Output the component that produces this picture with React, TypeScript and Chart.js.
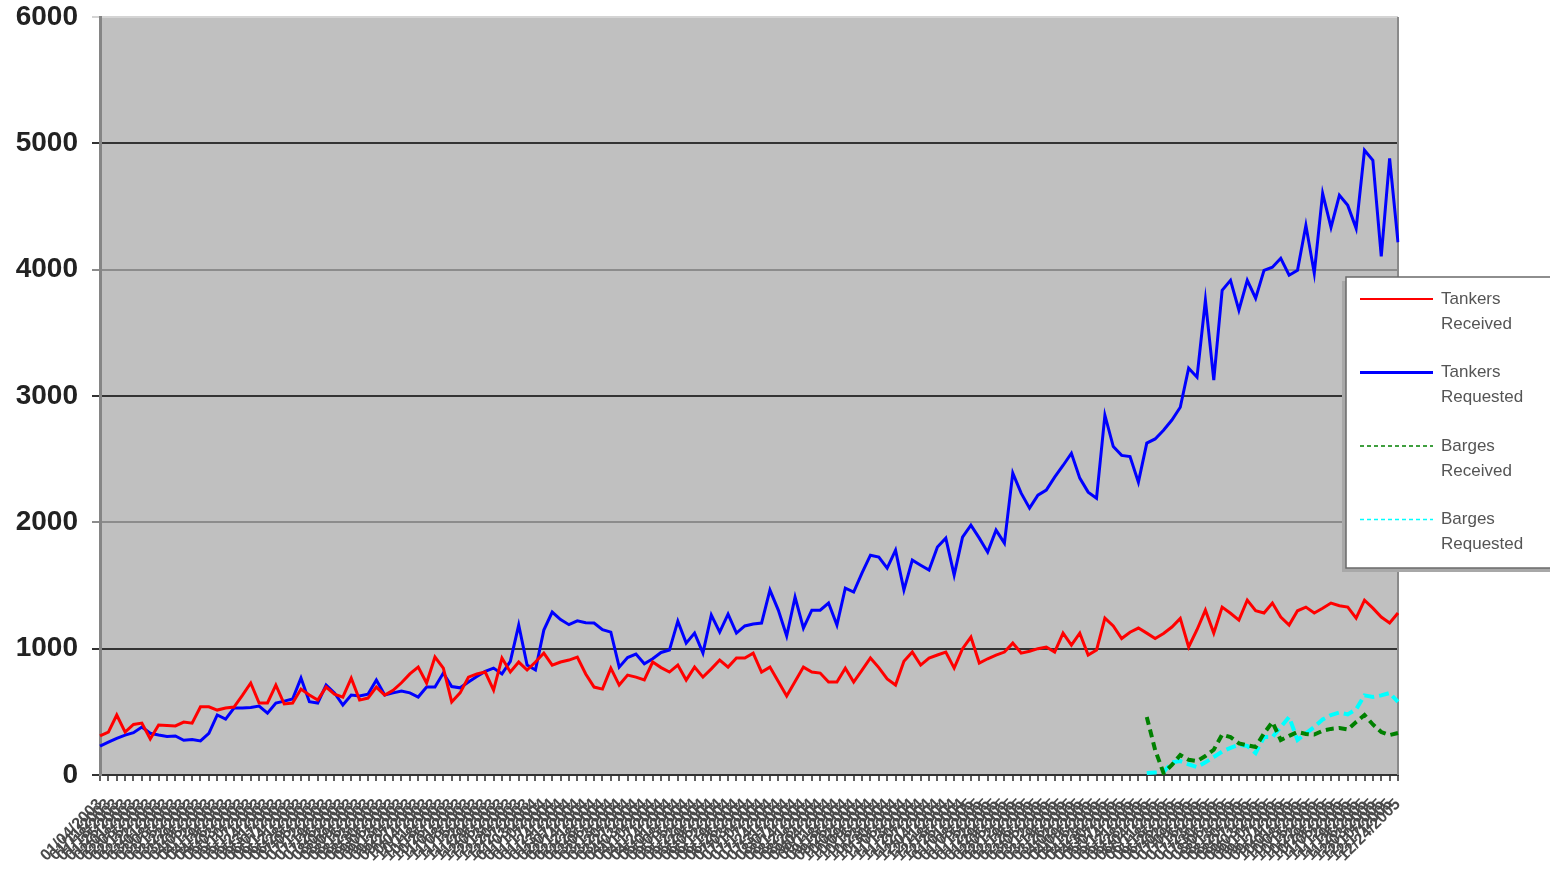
import React, { useEffect, useRef } from 'react';
import { Chart, registerables } from 'chart.js';

Chart.register(...registerables);

// Weekly category labels (x axis)
const weekLabels: string[] = (
  '01/04/2003 01/11/2003 01/18/2003 01/25/2003 02/01/2003 02/08/2003 02/15/2003 02/22/2003 03/01/2003 03/08/2003 03/15/2003 03/22/2003 03/29/2003 ' +
  '04/05/2003 04/12/2003 04/19/2003 04/26/2003 05/03/2003 05/10/2003 05/17/2003 05/24/2003 05/31/2003 06/07/2003 06/14/2003 06/21/2003 06/28/2003 ' +
  '07/05/2003 07/12/2003 07/19/2003 07/26/2003 08/02/2003 08/09/2003 08/16/2003 08/23/2003 08/30/2003 09/06/2003 09/13/2003 09/20/2003 09/27/2003 ' +
  '10/04/2003 10/11/2003 10/18/2003 10/25/2003 11/01/2003 11/08/2003 11/15/2003 11/22/2003 11/29/2003 12/06/2003 12/13/2003 12/20/2003 12/27/2003 ' +
  '01/03/2004 01/10/2004 01/17/2004 01/24/2004 01/31/2004 02/07/2004 02/14/2004 02/21/2004 02/28/2004 03/06/2004 03/13/2004 03/20/2004 03/27/2004 ' +
  '04/03/2004 04/10/2004 04/17/2004 04/24/2004 05/01/2004 05/08/2004 05/15/2004 05/22/2004 05/29/2004 06/05/2004 06/12/2004 06/19/2004 06/26/2004 ' +
  '07/03/2004 07/10/2004 07/17/2004 07/24/2004 07/31/2004 08/07/2004 08/14/2004 08/21/2004 08/28/2004 09/04/2004 09/11/2004 09/18/2004 09/25/2004 ' +
  '10/02/2004 10/09/2004 10/16/2004 10/23/2004 10/30/2004 11/06/2004 11/13/2004 11/20/2004 11/27/2004 12/04/2004 12/11/2004 12/18/2004 12/25/2004 ' +
  '01/01/2005 01/08/2005 01/15/2005 01/22/2005 01/29/2005 02/05/2005 02/12/2005 02/19/2005 02/26/2005 03/05/2005 03/12/2005 03/19/2005 03/26/2005 ' +
  '04/02/2005 04/09/2005 04/16/2005 04/23/2005 04/30/2005 05/07/2005 05/14/2005 05/21/2005 05/28/2005 06/04/2005 06/11/2005 06/18/2005 06/25/2005 ' +
  '07/02/2005 07/09/2005 07/16/2005 07/23/2005 07/30/2005 08/06/2005 08/13/2005 08/20/2005 08/27/2005 09/03/2005 09/10/2005 09/17/2005 09/24/2005 ' +
  '10/01/2005 10/08/2005 10/15/2005 10/22/2005 10/29/2005 11/05/2005 11/12/2005 11/19/2005 11/26/2005 12/03/2005 12/10/2005 12/17/2005 12/24/2005'
).split(' ');

const tankersReceived: number[] = [
  309, 340, 475, 340, 400, 411, 285, 396, 392, 388,
  419, 410, 540, 540, 514, 530, 538, 630, 728, 570,
  570, 712, 562, 570, 680, 633, 593, 696, 640, 617,
  767, 593, 609, 696, 633, 670, 730, 800, 854, 728,
  934, 846, 578, 650, 775, 800, 815, 672, 926, 815,
  894, 831, 894, 965, 870, 894, 910, 934, 800, 696,
  680, 846, 712, 791, 775, 752, 894, 850, 815, 870,
  752, 854, 775, 840, 910, 854, 926, 926, 965, 815,
  854, 740, 625, 740, 854, 815, 807, 736, 736, 846,
  736, 830, 926, 850, 760, 712, 900, 973, 870, 926,
  950, 973, 846, 1000, 1092, 886, 920, 949, 973, 1044,
  965, 980, 1000, 1013, 973, 1123, 1028, 1123, 949, 989,
  1242, 1180, 1080, 1130, 1163, 1123, 1080, 1120, 1171, 1240,
  1013, 1150, 1305, 1123, 1329, 1280, 1226, 1384, 1300, 1282,
  1361, 1250, 1187, 1300, 1329, 1282, 1320, 1361, 1340, 1329,
  1242, 1384, 1321, 1250, 1203, 1282,
];

const tankersRequested: number[] = [
  229, 260, 290, 316, 335, 380, 330, 316, 305, 309,
  275, 280, 270, 330, 475, 443, 530, 530, 535, 546,
  490, 570, 585, 601, 767, 580, 570, 712, 649, 554,
  633, 625, 640, 752, 633, 650, 665, 650, 617, 696,
  696, 807, 700, 690, 736, 780, 820, 846, 800, 900,
  1187, 870, 831, 1147, 1290, 1230, 1190, 1220, 1205, 1203,
  1150, 1131, 854, 930, 957, 880, 920, 970, 989, 1218,
  1044, 1123, 965, 1266, 1131, 1274, 1123, 1180, 1195, 1203,
  1464, 1305, 1100, 1408, 1163, 1305, 1305, 1361, 1187, 1479,
  1448, 1600, 1740, 1725, 1638, 1780, 1464, 1701, 1661, 1622,
  1804, 1875, 1582, 1883, 1978, 1875, 1764, 1938, 1835, 2389,
  2231, 2112, 2215, 2255, 2358, 2450, 2547, 2350, 2239, 2191,
  2848, 2600, 2530, 2520, 2318, 2627, 2660, 2729, 2810, 2911,
  3220, 3149, 3758, 3125, 3837, 3916, 3679, 3916, 3774, 3995,
  4019, 4090, 3956, 3995, 4351, 3972, 4604, 4335, 4589, 4509,
  4327, 4945, 4866, 4106, 4881, 4217,
];

// Barge series begin at this category (earlier weeks have no barge data)
const bargeStartIndex = 125;
const bargesReceived: number[] = [
  459, 198, 16, 80, 158, 120, 110, 150, 200, 320, 300, 250, 235, 222, 330, 419,
  277, 310, 340, 325, 320, 350, 365, 372, 360, 420, 475, 400, 340, 316, 332,
];
const bargesRequested: number[] = [
  16, 20, 24, 100, 110, 85, 63, 100, 142, 185, 215, 240, 230, 174, 300, 300,
  380, 459, 277, 330, 380, 440, 475, 495, 480, 520, 630, 617, 630, 649, 578,
];

const yMin = 0;
const yMax = 6000;
const yStep = 1000;

const seriesNames = ['Tankers Received', 'Tankers Requested', 'Barges Received', 'Barges Requested'];
const seriesColors = ['#ff0000', '#0000ff', '#008000', '#00ffff'];

const FONT = '"Liberation Sans", Arial, sans-serif';

function padBarges(values: number[]): (number | null)[] {
  const out: (number | null)[] = weekLabels.map(() => null);
  values.forEach((v, i) => {
    out[bargeStartIndex + i] = v;
  });
  return out;
}

const legendStyle = [
  { width: 2, dash: [] as number[] },
  { width: 3, dash: [] as number[] },
  { width: 1.5, dash: [4, 3] },
  { width: 1.5, dash: [4, 3] },
];

const plotPlugin = {
  id: 'plotDecor',
  beforeDraw(chart: any) {
    const { ctx, chartArea } = chart;
    ctx.save();
    ctx.fillStyle = '#c0c0c0';
    ctx.fillRect(chartArea.left, chartArea.top, chartArea.right - chartArea.left, chartArea.bottom - chartArea.top);
    ctx.restore();
  },
  beforeDatasetsDraw(chart: any) {
    const { ctx, chartArea } = chart;
    ctx.save();
    ctx.strokeStyle = '#8a8a8a';
    ctx.lineWidth = 2;
    ctx.beginPath();
    ctx.moveTo(chartArea.right, chartArea.top);
    ctx.lineTo(chartArea.right, chartArea.bottom);
    ctx.stroke();
    ctx.restore();
  },
  afterDraw(chart: any) {
    const { ctx } = chart;
    const x = 1346;
    const y = 277;
    const w = 215;
    const h = 291;
    ctx.save();
    ctx.fillStyle = '#a8a8a8';
    ctx.fillRect(x - 4, y + 4, w, h);
    ctx.fillStyle = '#ffffff';
    ctx.fillRect(x, y, w, h);
    ctx.strokeStyle = '#6a6a6a';
    ctx.lineWidth = 1.5;
    ctx.strokeRect(x, y, w, h);
    chart.data.datasets.forEach((ds: any, i: number) => {
      const ly = y + 22 + i * 73.5;
      ctx.strokeStyle = ds.borderColor;
      ctx.lineWidth = legendStyle[i].width;
      ctx.setLineDash(legendStyle[i].dash);
      ctx.beginPath();
      ctx.moveTo(x + 14, ly);
      ctx.lineTo(x + 87, ly);
      ctx.stroke();
      ctx.setLineDash([]);
      ctx.fillStyle = '#555555';
      ctx.font = `17px ${FONT}`;
      ctx.textBaseline = 'middle';
      ctx.textAlign = 'left';
      String(ds.label)
        .split(' ')
        .forEach((t: string, j: number) => ctx.fillText(t, x + 95, ly + j * 25));
    });
    ctx.restore();
  },
};

export default function App() {
  const canvasRef = useRef<HTMLCanvasElement | null>(null);

  useEffect(() => {
    if (!canvasRef.current) return;
    const chart = new Chart(canvasRef.current, {
      type: 'line',
      data: {
        labels: weekLabels,
        datasets: [
          {
            label: seriesNames[0],
            data: tankersReceived,
            borderColor: seriesColors[0],
            borderWidth: 3,
            pointRadius: 0,
            tension: 0,
          },
          {
            label: seriesNames[1],
            data: tankersRequested,
            borderColor: seriesColors[1],
            borderWidth: 3,
            pointRadius: 0,
            tension: 0,
          },
          {
            label: seriesNames[2],
            data: padBarges(bargesReceived),
            borderColor: seriesColors[2],
            borderWidth: 4,
            borderDash: [8, 5],
            pointRadius: 0,
            tension: 0,
            spanGaps: false,
          },
          {
            label: seriesNames[3],
            data: padBarges(bargesRequested),
            borderColor: seriesColors[3],
            borderWidth: 4,
            borderDash: [10, 5],
            pointRadius: 0,
            tension: 0,
            spanGaps: false,
          },
        ],
      },
      options: {
        responsive: false,
        animation: false,
        devicePixelRatio: 1,
        layout: { padding: { left: 0, right: 152, top: 17, bottom: 0 } },
        plugins: {
          legend: { display: false },
          title: { display: false },
          tooltip: { enabled: false },
        },
        scales: {
          x: {
            type: 'category',
            offset: false,
            afterFit: (scale: any) => {
              scale.height = 113;
            },
            grid: {
              drawOnChartArea: false,
              drawTicks: true,
              tickLength: 6,
              color: '#606060',
              lineWidth: 2,
            },
            border: { display: true, color: '#333333', width: 2 },
            ticks: {
              autoSkip: false,
              minRotation: 45,
              maxRotation: 45,
              padding: 14,
              color: '#4a4a4a',
              font: { family: FONT, size: 16, weight: 'bold' },
            },
          },
          y: {
            min: yMin,
            max: yMax,
            afterFit: (scale: any) => {
              scale.width = 100;
              scale.paddingTop = 0;
              scale.paddingBottom = 0;
            },
            ticks: {
              stepSize: yStep,
              padding: 14,
              color: '#222222',
              font: { family: FONT, size: 28, weight: 'bold' },
              callback: (v: any) => String(v),
            },
            grid: {
              tickLength: 8,
              lineWidth: 2,
              color: (c: any) => {
                const v = c.tick ? c.tick.value : 0;
                if (v === yMax) return '#d4d4d4';
                if (v === 0) return '#333333';
                return (v / yStep) % 2 === 1 ? '#333333' : '#8c8c8c';
              },
            },
            border: { display: true, color: '#858585', width: 3 },
          },
        },
      },
      plugins: [plotPlugin],
    } as any);
    return () => chart.destroy();
  }, []);

  return (
    <div style={{ position: 'absolute', left: 0, top: 0, width: 1550, height: 888, background: '#ffffff' }}>
      <canvas ref={canvasRef} width={1550} height={888} style={{ display: 'block' }} />
    </div>
  );
}
